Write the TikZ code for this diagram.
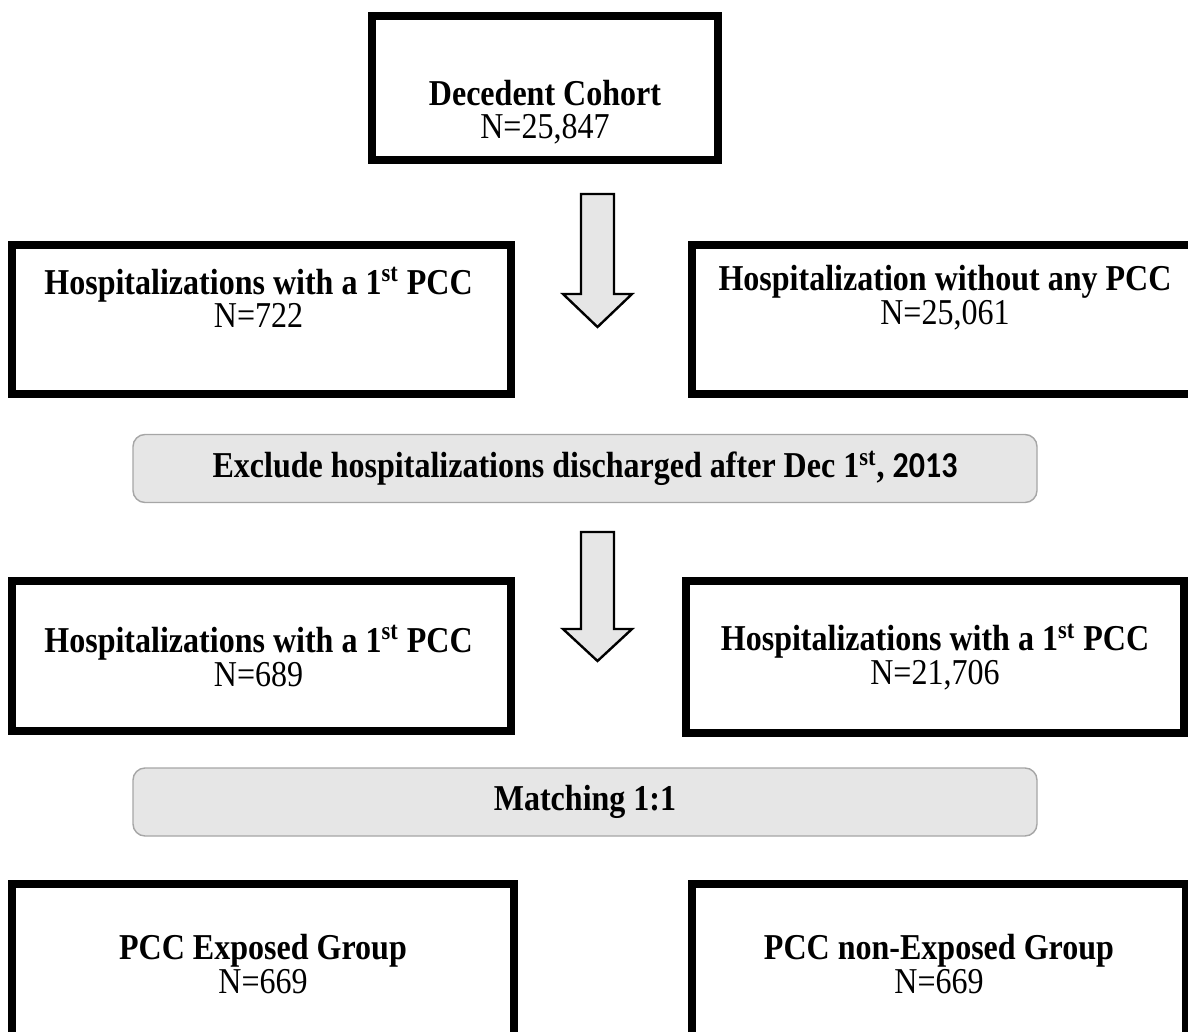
\documentclass[tikz,border=0pt]{standalone}
\usepackage{fontspec}
\setmainfont{Liberation Serif}[FakeStretch=0.88]
\newfontfamily\calibri{Carlito}[FakeStretch=0.88]
\usetikzlibrary{positioning}
\definecolor{fillgrey}{HTML}{E6E6E6}
\definecolor{edgegrey}{HTML}{A6A6A6}
\tikzset{
	cohortbox/.style={draw, line width=4pt, minimum width=#1, inner sep=0pt},
	boxtext/.style={align=center, inner sep=0pt, font=\fontsize{18.2}{16.8}\selectfont},
	stepbar/.style={draw=edgegrey, fill=fillgrey, line width=0.7pt, rounded corners=6pt, minimum width=452pt, minimum height=34pt, inner sep=0pt},
	blockarrow/.style={draw, fill=fillgrey, line width=1.2pt, line join=miter}
}
\begin{document}
\begin{tikzpicture}[x=0.5pt,y=-0.5pt]
		\clip (0,0) rectangle (1188,1032);
		% boxes
		\node[cohortbox=173pt, minimum height=72pt] (cohort) at (545,88) {};
		\node[cohortbox=249.5pt, minimum height=74.5pt] (pccA) at (261.5,319.5) {};
		\node[cohortbox=253pt, minimum height=74.5pt] (nopccA) at (945,319.5) {};
		\node[cohortbox=249.5pt, minimum height=75pt] (pccB) at (261.5,656) {};
		\node[cohortbox=249pt, minimum height=76pt] (nopccB) at (935,657) {};
		\node[cohortbox=251pt, minimum height=80pt] (exposed) at (263,964) {};
		\node[cohortbox=247pt, minimum height=80pt] (unexposed) at (939,964) {};
		% texts
		\node[boxtext] (cohorttxt) at ([yshift=-12pt]cohort.center) {\textbf{Decedent Cohort}\\N=25,847};
		\node[boxtext] (pccAtxt) at ([xshift=-1.5pt,yshift=11pt]pccA.center) {\textbf{Hospitalizations with a 1\textsuperscript{st} PCC}\\N=722};
		\node[boxtext] (nopccAtxt) at ([yshift=11pt]nopccA.center) {\textbf{Hospitalization without any PCC}\\N=25,061};
		\node[boxtext] (pccBtxt) at ([xshift=-1.5pt]pccB.center) {\textbf{Hospitalizations with a 1\textsuperscript{st} PCC}\\N=689};
		\node[boxtext] (nopccBtxt) at (nopccB.center) {\textbf{Hospitalizations with a 1\textsuperscript{st} PCC}\\N=21,706};
		\node[boxtext] (exposedtxt) at (exposed.center) {\textbf{PCC Exposed Group}\\N=669};
		\node[boxtext] (unexposedtxt) at (unexposed.center) {\textbf{PCC non-Exposed Group}\\N=669};
		% grey steps
		\node[stepbar] (exclude) at (585,468.5) {};
		\node[boxtext] (excludetxt) at (exclude.center) {\textbf{Exclude hospitalizations discharged after Dec 1\textsuperscript{st}, {\calibri 2013}}};
		\node[stepbar] (matching) at (585,802) {};
		\node[boxtext] (matchingtxt) at (matching.center) {\textbf{Matching 1:1}};
		% block arrows
		\draw[blockarrow] (581,194) -- (614,194) -- (614,294) -- (632,294) -- (597.5,327) -- (563,294) -- (581,294) -- cycle;
		\draw[blockarrow] (581,532) -- (614,532) -- (614,629) -- (632,629) -- (597.5,661) -- (563,629) -- (581,629) -- cycle;
\end{tikzpicture}
\end{document}
